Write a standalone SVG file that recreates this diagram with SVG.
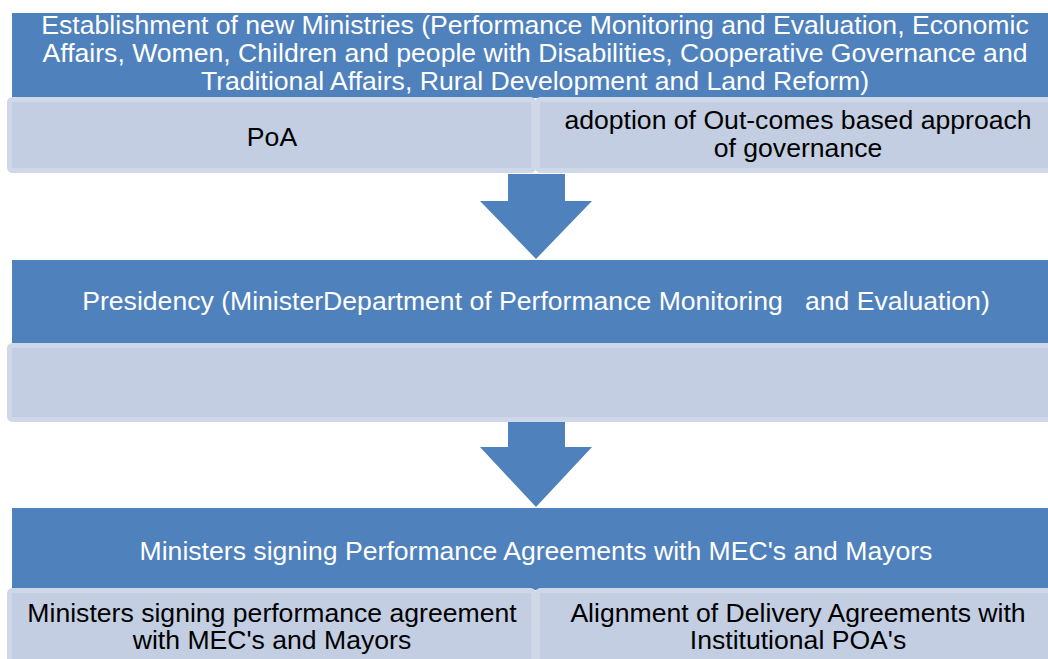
<svg xmlns="http://www.w3.org/2000/svg" width="1048" height="659" viewBox="0 0 1048 659">
<style>
.head{fill:#4F81BD}
.sub{fill:#C3CEE2;stroke:#CFD8E9;stroke-width:5}
.arrow{fill:#4F81BD}
text{font-family:"Liberation Sans",Arial,sans-serif;font-size:26.6px;text-anchor:middle}
.w{fill:#FFFFFF}
.k{fill:#000000}
</style>
<rect width="1048" height="659" fill="#FFFFFF"/>
<g id="connectors">
<path class="arrow" d="M508,174 H565 V201 H592 L536,259 L480,201 H508 Z"/>
<path class="arrow" d="M508,421 H565 V447 H592 L536,507 L480,447 H508 Z"/>
</g>
<g id="node-ministries">
<rect class="head" x="12" y="13" width="1046" height="85"/>
<text class="w"><tspan x="535" y="34">Establishment of new Ministries (Performance Monitoring and Evaluation, Economic</tspan><tspan x="535" y="62">Affairs, Women, Children and people with Disabilities, Cooperative Governance and</tspan><tspan x="535" y="90">Traditional Affairs, Rural Development and Land Reform)</tspan></text>
</g>
<g id="node-poa">
<rect class="sub" x="9.5" y="99.5" width="524" height="71" rx="3"/>
<text class="k" x="272" y="146">PoA</text>
</g>
<g id="node-outcomes">
<rect class="sub" x="537.5" y="99.5" width="524" height="71" rx="3"/>
<text class="k"><tspan x="798" y="129">adoption of Out-comes based approach</tspan><tspan x="798" y="157">of governance</tspan></text>
</g>
<g id="node-presidency">
<rect class="head" x="12" y="260" width="1046" height="85"/>
<text class="w" x="536" y="310" xml:space="preserve">Presidency (MinisterDepartment of Performance Monitoring   and Evaluation)</text>
</g>
<g id="node-presidency-sub">
<rect class="sub" x="9.5" y="345.5" width="1052" height="74" rx="3"/>
</g>
<g id="node-agreements">
<rect class="head" x="12" y="508" width="1046" height="82"/>
<text class="w" x="536" y="560">Ministers signing Performance Agreements with MEC's and Mayors</text>
</g>
<g id="node-signing">
<rect class="sub" x="9.5" y="590.5" width="524" height="74" rx="3"/>
<text class="k"><tspan x="272" y="622">Ministers signing performance agreement</tspan><tspan x="272" y="649">with MEC's and Mayors</tspan></text>
</g>
<g id="node-alignment">
<rect class="sub" x="537.5" y="590.5" width="524" height="74" rx="3"/>
<text class="k"><tspan x="798" y="622">Alignment of Delivery Agreements with</tspan><tspan x="798" y="649">Institutional POA's</tspan></text>
</g>
</svg>
